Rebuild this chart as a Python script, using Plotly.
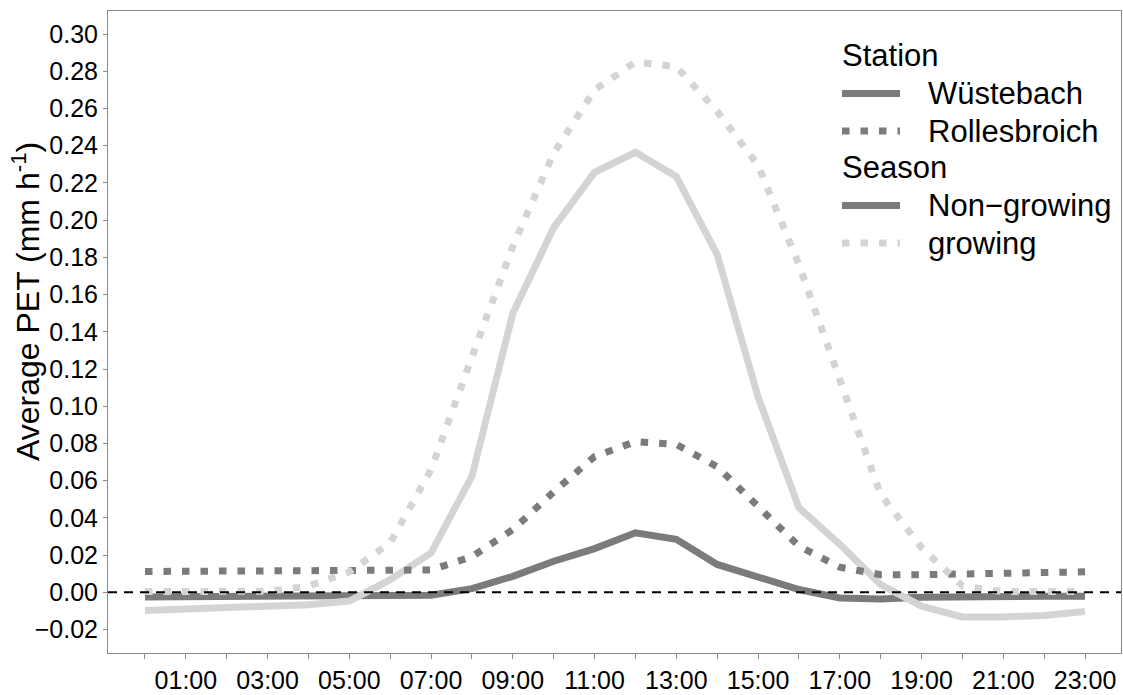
import plotly.graph_objects as go

# Hour of day (00:00 .. 23:00) and the labelled hours on the x axis
hours = list(range(24))
label_hours = [1, 3, 5, 7, 9, 11, 13, 15, 17, 19, 21, 23]
hour_labels = ["01:00", "03:00", "05:00", "07:00", "09:00", "11:00",
               "13:00", "15:00", "17:00", "19:00", "21:00", "23:00"]

# Average PET (mm h-1) per hour, by station and season
wuestebach_nongrowing = [-0.0025, -0.0025, -0.0024, -0.0023, -0.0021, -0.0019, -0.0018, -0.0016,
                         0.0020, 0.0086, 0.0167, 0.0235, 0.0320, 0.0285, 0.0150, 0.0085,
                         0.0015, -0.0030, -0.0036, -0.0026, -0.0022, -0.0021, -0.0021, -0.0021]
wuestebach_growing = [-0.0097, -0.0091, -0.0084, -0.0076, -0.0067, -0.0047, 0.0068, 0.0212,
                      0.0625, 0.1500, 0.1960, 0.2257, 0.2365, 0.2235, 0.1815, 0.1050,
                      0.0455, 0.0258, 0.0042, -0.0074, -0.0132, -0.0132, -0.0124, -0.0103]
rollesbroich_nongrowing = [0.0112, 0.0112, 0.0112, 0.0112, 0.0112, 0.0112, 0.0113, 0.0120,
                           0.0192, 0.0337, 0.0540, 0.0730, 0.0810, 0.0795, 0.0675, 0.0465,
                           0.0248, 0.0135, 0.0095, 0.0095, 0.0100, 0.0104, 0.0106, 0.0110]
rollesbroich_growing = [0.0004, 0.0004, 0.0005, 0.0006, 0.0033, 0.0110, 0.0266, 0.0660,
                        0.1265, 0.1860, 0.2360, 0.2700, 0.2850, 0.2825, 0.2585, 0.2295,
                        0.1760, 0.1140, 0.0525, 0.0240, 0.0034, 0.0004, 0.0003, 0.0004]

y_ticks = [round(-0.02 + 0.02 * i, 2) for i in range(17)]

DARK = "#7b7b7b"
LIGHT = "#d3d5d4"
DOT = "7.5px,11px"
LW = 7
FONT = "Liberation Sans, Arial, sans-serif"
AXIS_GREY = "#8a8a8a"

fig = go.Figure()

series = [
    (wuestebach_nongrowing, DARK, "solid", "Wüstebach, Non−growing"),
    (wuestebach_growing, LIGHT, "solid", "Wüstebach, growing"),
    (rollesbroich_nongrowing, DARK, DOT, "Rollesbroich, Non−growing"),
    (rollesbroich_growing, LIGHT, DOT, "Rollesbroich, growing"),
]
for values, color, dash, name in series:
    fig.add_trace(go.Scatter(
        x=hours, y=values, mode="lines", name=name, showlegend=False,
        line=dict(color=color, width=LW, dash=dash),
    ))

# Plot-area geometry in pixels, used to place the hand-built legend
W, H = 1123, 695
ML, MR, MT, MB = 108, 2, 11, 42
PW, PH = W - ML - MR, H - MT - MB


def px(xp):
    return (xp - ML) / PW


def py(yp):
    return (H - MB - yp) / PH


shapes = [
    dict(type="line", xref="paper", yref="y", x0=0, x1=1, y0=0, y1=0,
         line=dict(color="black", width=2, dash="9px,7px"), layer="above"),
]
annotations = [
    dict(xref="paper", yref="paper", x=px(26), y=py(302), xanchor="center", yanchor="middle",
         text="Average PET (mm h<sup>-1</sup>)", textangle=-90, showarrow=False,
         font=dict(family=FONT, size=32, color="black")),
]

legend_rows = [
    ("title", "Station", None, None),
    ("item", "Wüstebach", DARK, "solid"),
    ("item", "Rollesbroich", DARK, DOT),
    ("title", "Season", None, None),
    ("item", "Non−growing", DARK, "solid"),
    ("item", "growing", LIGHT, DOT),
]
row_y = [56, 93.5, 131, 168, 205.5, 243]
for (kind, label, color, dash), yrow in zip(legend_rows, row_y):
    if kind == "title":
        annotations.append(dict(xref="paper", yref="paper", x=px(840), y=py(yrow),
                                xanchor="left", yanchor="middle", text=label, showarrow=False,
                                font=dict(family=FONT, size=31, color="black")))
    else:
        shapes.append(dict(type="line", xref="paper", yref="paper",
                           x0=px(842), x1=px(900), y0=py(yrow), y1=py(yrow),
                           line=dict(color=color, width=LW, dash=dash)))
        annotations.append(dict(xref="paper", yref="paper", x=px(926), y=py(yrow),
                                xanchor="left", yanchor="middle", text=label, showarrow=False,
                                font=dict(family=FONT, size=31, color="black")))

fig.update_layout(
    width=W, height=H,
    margin=dict(l=ML, r=MR, t=MT, b=MB, pad=0),
    paper_bgcolor="white", plot_bgcolor="white",
    font=dict(family=FONT, color="black"),
    shapes=shapes, annotations=annotations,
    showlegend=False,
)
fig.update_xaxes(
    range=[-0.905, 23.88], tickmode="array", tickvals=label_hours, ticktext=hour_labels,
    ticks="outside", ticklen=5, tickwidth=1, tickcolor=AXIS_GREY,
    minor=dict(tickmode="linear", tick0=0, dtick=1, ticks="outside", ticklen=5,
               tickwidth=1, tickcolor=AXIS_GREY, showgrid=False),
    showline=True, linecolor=AXIS_GREY, linewidth=1, mirror=True,
    showgrid=False, zeroline=False, tickfont=dict(size=25, family=FONT, color="black"),
)
fig.update_yaxes(
    range=[-0.0326, 0.3124], tickmode="array", tickvals=y_ticks,
    ticktext=[f"{v:.2f}".replace("-", "\u2212") for v in y_ticks],
    ticks="outside", ticklen=4, tickwidth=1, tickcolor=AXIS_GREY,
    showline=True, linecolor=AXIS_GREY, linewidth=1, mirror=True,
    showgrid=False, zeroline=False, tickfont=dict(size=25, family=FONT, color="black"),
)

fig.write_html("out.html")
